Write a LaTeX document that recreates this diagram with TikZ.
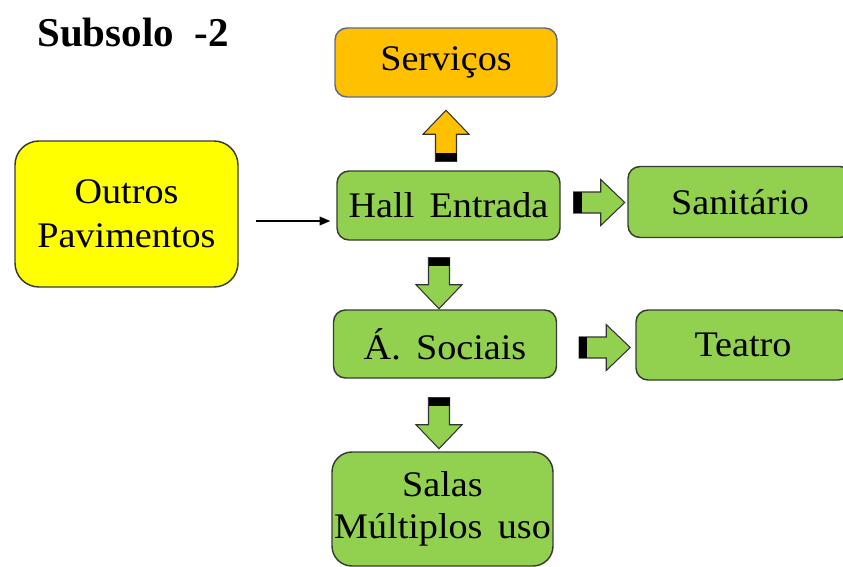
\documentclass[tikz,border=0pt]{standalone}
\usepackage{fontspec}
\setmainfont{Liberation Serif}
\newfontfamily\boxfont{Liberation Serif}[FakeStretch=1.06, WordSpace=1.6]
\usepackage{tikz}
\usetikzlibrary{arrows.meta, calc}
\usepackage{xcolor}
\definecolor{servorange}{RGB}{255, 192, 0}
\definecolor{pavyellow}{RGB}{255, 255, 0}
\definecolor{roomgreen}{RGB}{146, 208, 80}
\definecolor{edgedark}{RGB}{55, 60, 50}
\definecolor{edgeblue}{RGB}{90, 106, 134}

\tikzset{
  room/.style={draw=edgedark, line width=1.1pt, rounded corners=9pt, inner sep=0pt,
    align=center, font=\boxfont\fontsize{27}{33}\selectfont},
  pics/blockarrow/.style={code={
    \fill[#1, draw=black!80, line width=0.8pt] (0,-10.5) -- (27,-10.5) -- (27,-23) -- (51,0)
      -- (27,23) -- (27,10.5) -- (0,10.5) -- cycle;
    \fill[black] (0,-10.5) rectangle (8,10.5);
  }}
}

\begin{document}
\begin{tikzpicture}[x=0.75pt, y=-0.75pt]

  \clip (0,0) rectangle (843,567);

  % --- Title ---
  \node[anchor=base west, inner sep=0pt, font=\bfseries\fontsize{30.75}{32}\selectfont]
    (title) at (37,47) {Subsolo\ \ -2};

  % --- Rooms ---
  \node[room, fill=servorange, draw=edgeblue, minimum width=166.5pt, minimum height=51.75pt]
    (serv) at (446,62.5) {Serviços};
  \node[room, fill=pavyellow, rounded corners=18pt, minimum width=167.25pt, minimum height=109.5pt]
    (outros) at (126.5,214) {Outros\\Pavimentos};
  \node[room, fill=roomgreen, minimum width=167.25pt, minimum height=51.75pt]
    (hall) at (448.5,205.5) {Hall Entrada};
  \node[room, fill=roomgreen, minimum width=168pt, minimum height=53.25pt]
    (sanit) at (740,202) {Sanitário};
  \node[room, fill=roomgreen, minimum width=167.25pt, minimum height=51pt]
    (soc) at (445,344) {Á. Sociais};
  \node[room, fill=roomgreen, minimum width=160.5pt, minimum height=52.5pt]
    (teatro) at (743,345) {Teatro};
  \node[room, fill=roomgreen, rounded corners=15pt, minimum width=165.75pt, minimum height=85.5pt,
    font=\boxfont\fontsize{27}{32}\selectfont]
    (salas) at (442.5,509) {Salas\\Múltiplos uso};

  % --- Plain arrow from other floors ---
  \draw[-{Triangle[length=8pt, width=6.5pt]}, line width=1.1pt]
    ($(outros.east)+(17,7)$) -- ($(hall.west)+(-6,15.5)$);

  % --- Block arrows ---
  \pic[rotate=90] at ($(hall.north)+(-2.5,-9)$) {blockarrow=servorange};
  \pic at ($(hall.east)+(13,-3)$) {blockarrow=roomgreen};
  \pic[rotate=-90] at ($(hall.south)+(-9.5,17)$) {blockarrow=roomgreen};
  \pic at ($(soc.east)+(22,3.5)$) {blockarrow=roomgreen};
  \pic[rotate=-90] at ($(soc.south)+(-6,19)$) {blockarrow=roomgreen};

\end{tikzpicture}
\end{document}
